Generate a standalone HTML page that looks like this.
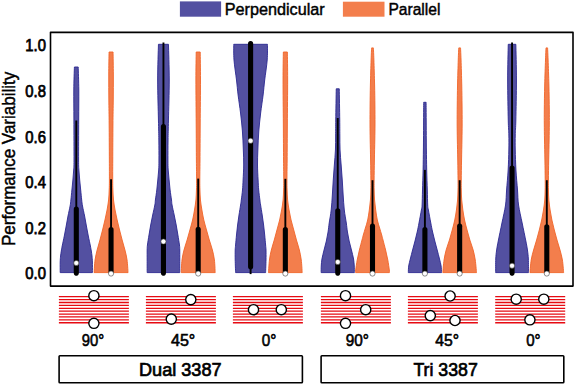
<!DOCTYPE html>
<html><head><meta charset="utf-8"><style>
html,body{margin:0;padding:0;background:#fff;}
svg{display:block;}
text{font-family:"Liberation Sans",sans-serif;}
</style></head><body>
<svg width="575" height="385" viewBox="0 0 575 385">
<rect x="0" y="0" width="575" height="385" fill="#fff"/>
<path d="M74.40,67.00 L78.20,67.00 C78.30,70.83 78.72,81.17 78.80,90.00 C78.88,98.83 78.73,108.33 78.70,120.00 C78.67,131.67 78.57,151.67 78.60,160.00 C78.63,168.33 78.72,166.67 78.90,170.00 C79.08,173.33 79.40,176.67 79.70,180.00 C80.00,183.33 80.37,186.67 80.70,190.00 C81.03,193.33 81.40,197.33 81.70,200.00 C82.00,202.67 82.02,203.33 82.50,206.00 C82.98,208.67 83.95,212.67 84.60,216.00 C85.25,219.33 85.78,222.67 86.40,226.00 C87.02,229.33 87.63,232.67 88.30,236.00 C88.97,239.33 89.90,243.50 90.40,246.00 C90.90,248.50 91.03,249.33 91.30,251.00 C91.57,252.67 91.82,254.17 92.00,256.00 C92.18,257.83 92.33,259.23 92.40,262.00 C92.47,264.77 92.40,270.83 92.40,272.60 L60.20,272.60 C60.20,270.83 60.13,264.77 60.20,262.00 C60.27,259.23 60.42,257.83 60.60,256.00 C60.78,254.17 61.03,252.67 61.30,251.00 C61.57,249.33 61.70,248.50 62.20,246.00 C62.70,243.50 63.63,239.33 64.30,236.00 C64.97,232.67 65.58,229.33 66.20,226.00 C66.82,222.67 67.35,219.33 68.00,216.00 C68.65,212.67 69.62,208.67 70.10,206.00 C70.58,203.33 70.60,202.67 70.90,200.00 C71.20,197.33 71.57,193.33 71.90,190.00 C72.23,186.67 72.60,183.33 72.90,180.00 C73.20,176.67 73.52,173.33 73.70,170.00 C73.88,166.67 73.97,168.33 74.00,160.00 C74.03,151.67 73.93,131.67 73.90,120.00 C73.87,108.33 73.72,98.83 73.80,90.00 C73.88,81.17 74.30,70.83 74.40,67.00 Z" fill="#5350a1" stroke="#2a2790" stroke-width="0.9" stroke-linejoin="miter"/>
<line x1="76.30" y1="120.50" x2="76.30" y2="275.50" stroke="#000" stroke-width="1.90" stroke-linecap="butt"/>
<line x1="76.30" y1="209.05" x2="76.30" y2="272.95" stroke="#000" stroke-width="5.10" stroke-linecap="round"/>
<circle cx="76.30" cy="263.00" r="2.55" fill="#fff" stroke="#444" stroke-width="0.6"/>
<path d="M109.05,52.00 L113.05,52.00 C113.10,55.83 113.32,67.00 113.35,75.00 C113.38,83.00 113.32,91.83 113.25,100.00 C113.18,108.17 113.03,114.00 112.95,124.00 C112.87,134.00 112.79,150.67 112.75,160.00 C112.71,169.33 112.68,175.00 112.70,180.00 C112.72,185.00 112.77,186.67 112.90,190.00 C113.03,193.33 113.14,196.67 113.50,200.00 C113.86,203.33 114.44,206.67 115.05,210.00 C115.66,213.33 116.40,216.67 117.15,220.00 C117.90,223.33 118.72,226.67 119.55,230.00 C120.38,233.33 121.25,236.67 122.15,240.00 C123.05,243.33 124.13,246.67 124.95,250.00 C125.77,253.33 126.53,256.23 127.05,260.00 C127.57,263.77 127.88,270.50 128.05,272.60 L94.05,272.60 C94.22,270.50 94.53,263.77 95.05,260.00 C95.57,256.23 96.33,253.33 97.15,250.00 C97.97,246.67 99.05,243.33 99.95,240.00 C100.85,236.67 101.72,233.33 102.55,230.00 C103.38,226.67 104.20,223.33 104.95,220.00 C105.70,216.67 106.44,213.33 107.05,210.00 C107.66,206.67 108.24,203.33 108.60,200.00 C108.96,196.67 109.07,193.33 109.20,190.00 C109.33,186.67 109.38,185.00 109.40,180.00 C109.42,175.00 109.39,169.33 109.35,160.00 C109.31,150.67 109.23,134.00 109.15,124.00 C109.07,114.00 108.92,108.17 108.85,100.00 C108.78,91.83 108.72,83.00 108.75,75.00 C108.78,67.00 109.00,55.83 109.05,52.00 Z" fill="#f37e4c" stroke="#f06428" stroke-width="0.9" stroke-linejoin="miter"/>
<line x1="111.05" y1="179.20" x2="111.05" y2="275.00" stroke="#000" stroke-width="1.90" stroke-linecap="butt"/>
<line x1="111.05" y1="229.65" x2="111.05" y2="272.45" stroke="#000" stroke-width="5.10" stroke-linecap="round"/>
<circle cx="111.05" cy="273.60" r="2.55" fill="#fff" stroke="#444" stroke-width="0.6"/>
<path d="M158.45,44.30 L168.45,44.30 C168.58,50.25 169.25,67.38 169.25,80.00 C169.25,92.62 168.65,110.00 168.45,120.00 C168.25,130.00 168.13,133.33 168.05,140.00 C167.97,146.67 167.92,155.00 167.95,160.00 C167.97,165.00 168.01,166.67 168.20,170.00 C168.39,173.33 168.78,176.67 169.10,180.00 C169.42,183.33 169.70,186.67 170.10,190.00 C170.50,193.33 171.18,197.50 171.50,200.00 C171.82,202.50 171.60,202.50 172.05,205.00 C172.50,207.50 173.51,211.67 174.20,215.00 C174.89,218.33 175.58,221.67 176.20,225.00 C176.82,228.33 177.36,231.67 177.90,235.00 C178.44,238.33 179.14,242.50 179.45,245.00 C179.76,247.50 179.70,247.50 179.75,250.00 C179.80,252.50 179.75,256.23 179.75,260.00 C179.75,263.77 179.75,270.50 179.75,272.60 L147.15,272.60 C147.15,270.50 147.15,263.77 147.15,260.00 C147.15,256.23 147.10,252.50 147.15,250.00 C147.20,247.50 147.14,247.50 147.45,245.00 C147.76,242.50 148.46,238.33 149.00,235.00 C149.54,231.67 150.08,228.33 150.70,225.00 C151.32,221.67 152.01,218.33 152.70,215.00 C153.39,211.67 154.40,207.50 154.85,205.00 C155.30,202.50 155.07,202.50 155.40,200.00 C155.72,197.50 156.40,193.33 156.80,190.00 C157.20,186.67 157.48,183.33 157.80,180.00 C158.12,176.67 158.51,173.33 158.70,170.00 C158.89,166.67 158.92,165.00 158.95,160.00 C158.97,155.00 158.93,146.67 158.85,140.00 C158.77,133.33 158.65,130.00 158.45,120.00 C158.25,110.00 157.65,92.62 157.65,80.00 C157.65,67.38 158.32,50.25 158.45,44.30 Z" fill="#5350a1" stroke="#2a2790" stroke-width="0.9" stroke-linejoin="miter"/>
<line x1="163.45" y1="42.50" x2="163.45" y2="275.50" stroke="#000" stroke-width="1.90" stroke-linecap="butt"/>
<line x1="163.45" y1="126.45" x2="163.45" y2="272.95" stroke="#000" stroke-width="5.10" stroke-linecap="round"/>
<circle cx="163.45" cy="241.50" r="2.55" fill="#fff" stroke="#444" stroke-width="0.6"/>
<path d="M196.20,52.00 L200.20,52.00 C200.25,56.67 200.50,68.00 200.50,80.00 C200.50,92.00 200.28,110.67 200.20,124.00 C200.12,137.33 200.07,150.67 200.00,160.00 C199.93,169.33 199.81,175.00 199.80,180.00 C199.79,185.00 199.84,186.67 199.95,190.00 C200.06,193.33 200.12,196.67 200.45,200.00 C200.77,203.33 201.34,206.67 201.90,210.00 C202.46,213.33 203.03,216.67 203.80,220.00 C204.57,223.33 205.58,226.67 206.50,230.00 C207.42,233.33 208.32,236.67 209.30,240.00 C210.28,243.33 211.55,246.67 212.40,250.00 C213.25,253.33 213.93,256.23 214.40,260.00 C214.87,263.77 215.07,270.50 215.20,272.60 L181.20,272.60 C181.33,270.50 181.53,263.77 182.00,260.00 C182.47,256.23 183.15,253.33 184.00,250.00 C184.85,246.67 186.12,243.33 187.10,240.00 C188.08,236.67 188.98,233.33 189.90,230.00 C190.82,226.67 191.83,223.33 192.60,220.00 C193.37,216.67 193.94,213.33 194.50,210.00 C195.06,206.67 195.62,203.33 195.95,200.00 C196.27,196.67 196.34,193.33 196.45,190.00 C196.56,186.67 196.61,185.00 196.60,180.00 C196.59,175.00 196.47,169.33 196.40,160.00 C196.33,150.67 196.28,137.33 196.20,124.00 C196.12,110.67 195.90,92.00 195.90,80.00 C195.90,68.00 196.15,56.67 196.20,52.00 Z" fill="#f37e4c" stroke="#f06428" stroke-width="0.9" stroke-linejoin="miter"/>
<line x1="198.20" y1="178.60" x2="198.20" y2="275.00" stroke="#000" stroke-width="1.90" stroke-linecap="butt"/>
<line x1="198.20" y1="229.35" x2="198.20" y2="272.45" stroke="#000" stroke-width="5.10" stroke-linecap="round"/>
<circle cx="198.20" cy="273.60" r="2.55" fill="#fff" stroke="#444" stroke-width="0.6"/>
<path d="M233.75,44.30 L267.45,44.30 C267.41,46.92 267.66,54.05 267.20,60.00 C266.74,65.95 265.38,74.17 264.70,80.00 C264.02,85.83 263.78,89.50 263.10,95.00 C262.43,100.50 261.37,107.00 260.65,113.00 C259.93,119.00 259.26,125.00 258.80,131.00 C258.34,137.00 258.12,143.33 257.90,149.00 C257.68,154.67 257.47,159.83 257.50,165.00 C257.53,170.17 257.90,175.83 258.10,180.00 C258.30,184.17 258.40,186.67 258.70,190.00 C259.00,193.33 259.58,197.50 259.90,200.00 C260.22,202.50 260.22,202.50 260.60,205.00 C260.98,207.50 261.70,211.67 262.20,215.00 C262.70,218.33 263.18,221.67 263.60,225.00 C264.02,228.33 264.37,231.67 264.70,235.00 C265.03,238.33 265.38,242.50 265.60,245.00 C265.82,247.50 265.93,247.50 266.00,250.00 C266.07,252.50 266.07,256.23 266.00,260.00 C265.93,263.77 265.67,270.50 265.60,272.60 L235.60,272.60 C235.53,270.50 235.27,263.77 235.20,260.00 C235.13,256.23 235.13,252.50 235.20,250.00 C235.27,247.50 235.38,247.50 235.60,245.00 C235.82,242.50 236.17,238.33 236.50,235.00 C236.83,231.67 237.18,228.33 237.60,225.00 C238.02,221.67 238.50,218.33 239.00,215.00 C239.50,211.67 240.22,207.50 240.60,205.00 C240.98,202.50 240.98,202.50 241.30,200.00 C241.62,197.50 242.20,193.33 242.50,190.00 C242.80,186.67 242.90,184.17 243.10,180.00 C243.30,175.83 243.67,170.17 243.70,165.00 C243.73,159.83 243.52,154.67 243.30,149.00 C243.08,143.33 242.86,137.00 242.40,131.00 C241.94,125.00 241.27,119.00 240.55,113.00 C239.83,107.00 238.78,100.50 238.10,95.00 C237.43,89.50 237.18,85.83 236.50,80.00 C235.82,74.17 234.46,65.95 234.00,60.00 C233.54,54.05 233.79,46.92 233.75,44.30 Z" fill="#5350a1" stroke="#2a2790" stroke-width="0.9" stroke-linejoin="miter"/>
<line x1="250.60" y1="41.70" x2="250.60" y2="274.10" stroke="#000" stroke-width="1.90" stroke-linecap="butt"/>
<line x1="250.60" y1="43.55" x2="250.60" y2="266.65" stroke="#000" stroke-width="5.10" stroke-linecap="round"/>
<circle cx="250.60" cy="140.80" r="2.55" fill="#fff" stroke="#444" stroke-width="0.6"/>
<path d="M283.35,52.00 L287.35,52.00 C287.40,56.67 287.65,68.00 287.65,80.00 C287.65,92.00 287.43,110.67 287.35,124.00 C287.27,137.33 287.22,150.67 287.15,160.00 C287.08,169.33 286.96,175.00 286.95,180.00 C286.94,185.00 286.99,186.67 287.10,190.00 C287.21,193.33 287.28,196.67 287.60,200.00 C287.93,203.33 288.48,206.67 289.05,210.00 C289.62,213.33 290.27,216.67 291.05,220.00 C291.83,223.33 292.85,226.67 293.75,230.00 C294.65,233.33 295.52,236.67 296.45,240.00 C297.38,243.33 298.55,246.67 299.35,250.00 C300.15,253.33 300.77,256.23 301.25,260.00 C301.73,263.77 302.04,270.50 302.20,272.60 L268.50,272.60 C268.66,270.50 268.98,263.77 269.45,260.00 C269.93,256.23 270.55,253.33 271.35,250.00 C272.15,246.67 273.32,243.33 274.25,240.00 C275.18,236.67 276.05,233.33 276.95,230.00 C277.85,226.67 278.87,223.33 279.65,220.00 C280.43,216.67 281.08,213.33 281.65,210.00 C282.23,206.67 282.78,203.33 283.10,200.00 C283.43,196.67 283.49,193.33 283.60,190.00 C283.71,186.67 283.76,185.00 283.75,180.00 C283.74,175.00 283.62,169.33 283.55,160.00 C283.48,150.67 283.43,137.33 283.35,124.00 C283.27,110.67 283.05,92.00 283.05,80.00 C283.05,68.00 283.30,56.67 283.35,52.00 Z" fill="#f37e4c" stroke="#f06428" stroke-width="0.9" stroke-linejoin="miter"/>
<line x1="285.35" y1="178.80" x2="285.35" y2="275.00" stroke="#000" stroke-width="1.90" stroke-linecap="butt"/>
<line x1="285.35" y1="229.65" x2="285.35" y2="272.45" stroke="#000" stroke-width="5.10" stroke-linecap="round"/>
<circle cx="285.35" cy="273.60" r="2.55" fill="#fff" stroke="#444" stroke-width="0.6"/>
<path d="M336.25,88.80 L339.25,88.80 C339.33,94.00 339.65,112.30 339.75,120.00 C339.85,127.70 339.80,130.00 339.85,135.00 C339.90,140.00 339.83,145.00 340.05,150.00 C340.27,155.00 340.78,160.00 341.15,165.00 C341.52,170.00 341.92,175.00 342.25,180.00 C342.58,185.00 342.81,190.00 343.15,195.00 C343.49,200.00 343.78,205.33 344.30,210.00 C344.83,214.67 345.78,219.33 346.30,223.00 C346.83,226.67 346.98,229.00 347.45,232.00 C347.93,235.00 348.48,238.00 349.15,241.00 C349.82,244.00 350.72,247.00 351.45,250.00 C352.18,253.00 353.08,256.33 353.55,259.00 C354.02,261.67 354.12,263.73 354.25,266.00 C354.38,268.27 354.33,271.50 354.35,272.60 L321.15,272.60 C321.17,271.50 321.12,268.27 321.25,266.00 C321.38,263.73 321.48,261.67 321.95,259.00 C322.42,256.33 323.32,253.00 324.05,250.00 C324.78,247.00 325.68,244.00 326.35,241.00 C327.02,238.00 327.58,235.00 328.05,232.00 C328.53,229.00 328.68,226.67 329.20,223.00 C329.73,219.33 330.68,214.67 331.20,210.00 C331.73,205.33 332.01,200.00 332.35,195.00 C332.69,190.00 332.92,185.00 333.25,180.00 C333.58,175.00 333.98,170.00 334.35,165.00 C334.72,160.00 335.23,155.00 335.45,150.00 C335.67,145.00 335.60,140.00 335.65,135.00 C335.70,130.00 335.65,127.70 335.75,120.00 C335.85,112.30 336.17,94.00 336.25,88.80 Z" fill="#5350a1" stroke="#2a2790" stroke-width="0.9" stroke-linejoin="miter"/>
<line x1="337.75" y1="118.00" x2="337.75" y2="275.50" stroke="#000" stroke-width="1.90" stroke-linecap="butt"/>
<line x1="337.75" y1="210.85" x2="337.75" y2="272.95" stroke="#000" stroke-width="5.10" stroke-linecap="round"/>
<circle cx="337.75" cy="262.00" r="2.55" fill="#fff" stroke="#444" stroke-width="0.6"/>
<path d="M371.60,47.90 L373.40,47.90 C373.48,49.92 373.70,53.82 373.90,60.00 C374.10,66.18 374.43,77.50 374.60,85.00 C374.77,92.50 374.83,98.50 374.90,105.00 C374.97,111.50 375.02,118.17 375.00,124.00 C374.98,129.83 374.90,134.00 374.80,140.00 C374.70,146.00 374.52,153.33 374.40,160.00 C374.28,166.67 374.14,175.00 374.10,180.00 C374.06,185.00 374.08,186.67 374.15,190.00 C374.23,193.33 374.29,196.67 374.55,200.00 C374.81,203.33 375.24,206.67 375.70,210.00 C376.16,213.33 376.65,217.00 377.30,220.00 C377.95,223.00 378.87,225.50 379.60,228.00 C380.33,230.50 381.13,233.00 381.70,235.00 C382.27,237.00 382.35,237.50 383.00,240.00 C383.65,242.50 384.80,246.67 385.60,250.00 C386.40,253.33 387.18,256.67 387.80,260.00 C388.42,263.33 389.03,267.90 389.30,270.00 C389.57,272.10 389.38,272.17 389.40,272.60 L355.60,272.60 C355.62,272.17 355.43,272.10 355.70,270.00 C355.97,267.90 356.58,263.33 357.20,260.00 C357.82,256.67 358.60,253.33 359.40,250.00 C360.20,246.67 361.35,242.50 362.00,240.00 C362.65,237.50 362.73,237.00 363.30,235.00 C363.87,233.00 364.67,230.50 365.40,228.00 C366.13,225.50 367.05,223.00 367.70,220.00 C368.35,217.00 368.84,213.33 369.30,210.00 C369.76,206.67 370.19,203.33 370.45,200.00 C370.71,196.67 370.78,193.33 370.85,190.00 C370.93,186.67 370.94,185.00 370.90,180.00 C370.86,175.00 370.72,166.67 370.60,160.00 C370.48,153.33 370.30,146.00 370.20,140.00 C370.10,134.00 370.02,129.83 370.00,124.00 C369.98,118.17 370.03,111.50 370.10,105.00 C370.17,98.50 370.23,92.50 370.40,85.00 C370.57,77.50 370.90,66.18 371.10,60.00 C371.30,53.82 371.52,49.92 371.60,47.90 Z" fill="#f37e4c" stroke="#f06428" stroke-width="0.9" stroke-linejoin="miter"/>
<line x1="372.50" y1="180.20" x2="372.50" y2="275.00" stroke="#000" stroke-width="1.90" stroke-linecap="butt"/>
<line x1="372.50" y1="226.15" x2="372.50" y2="272.45" stroke="#000" stroke-width="5.10" stroke-linecap="round"/>
<circle cx="372.50" cy="273.60" r="2.55" fill="#fff" stroke="#444" stroke-width="0.6"/>
<path d="M423.70,102.30 L426.10,102.30 C426.12,105.25 426.17,113.72 426.20,120.00 C426.23,126.28 426.27,135.00 426.30,140.00 C426.33,145.00 426.33,145.00 426.40,150.00 C426.47,155.00 426.55,163.33 426.70,170.00 C426.85,176.67 427.13,184.17 427.30,190.00 C427.47,195.83 427.52,201.67 427.70,205.00 C427.88,208.33 427.88,207.00 428.40,210.00 C428.92,213.00 430.10,219.33 430.80,223.00 C431.50,226.67 431.93,229.00 432.60,232.00 C433.27,235.00 434.03,238.00 434.80,241.00 C435.57,244.00 436.42,247.00 437.20,250.00 C437.98,253.00 438.85,256.33 439.50,259.00 C440.15,261.67 440.77,263.73 441.10,266.00 C441.43,268.27 441.43,271.50 441.50,272.60 L408.30,272.60 C408.37,271.50 408.37,268.27 408.70,266.00 C409.03,263.73 409.65,261.67 410.30,259.00 C410.95,256.33 411.82,253.00 412.60,250.00 C413.38,247.00 414.23,244.00 415.00,241.00 C415.77,238.00 416.53,235.00 417.20,232.00 C417.87,229.00 418.30,226.67 419.00,223.00 C419.70,219.33 420.88,213.00 421.40,210.00 C421.92,207.00 421.92,208.33 422.10,205.00 C422.28,201.67 422.33,195.83 422.50,190.00 C422.67,184.17 422.95,176.67 423.10,170.00 C423.25,163.33 423.33,155.00 423.40,150.00 C423.47,145.00 423.47,145.00 423.50,140.00 C423.53,135.00 423.57,126.28 423.60,120.00 C423.63,113.72 423.68,105.25 423.70,102.30 Z" fill="#5350a1" stroke="#2a2790" stroke-width="0.9" stroke-linejoin="miter"/>
<line x1="424.90" y1="169.90" x2="424.90" y2="275.00" stroke="#000" stroke-width="1.90" stroke-linecap="butt"/>
<line x1="424.90" y1="229.65" x2="424.90" y2="272.45" stroke="#000" stroke-width="5.10" stroke-linecap="round"/>
<circle cx="424.90" cy="273.60" r="2.55" fill="#fff" stroke="#444" stroke-width="0.6"/>
<path d="M458.75,47.90 L460.55,47.90 C460.63,49.92 460.85,53.82 461.05,60.00 C461.25,66.18 461.58,77.50 461.75,85.00 C461.92,92.50 461.98,98.50 462.05,105.00 C462.12,111.50 462.17,118.17 462.15,124.00 C462.13,129.83 462.05,134.00 461.95,140.00 C461.85,146.00 461.67,153.33 461.55,160.00 C461.43,166.67 461.29,175.00 461.25,180.00 C461.21,185.00 461.23,186.67 461.30,190.00 C461.38,193.33 461.44,196.67 461.70,200.00 C461.96,203.33 462.38,206.67 462.85,210.00 C463.33,213.33 463.85,216.67 464.55,220.00 C465.25,223.33 466.17,226.67 467.05,230.00 C467.93,233.33 468.83,236.67 469.85,240.00 C470.87,243.33 472.25,246.67 473.15,250.00 C474.05,253.33 474.69,256.23 475.25,260.00 C475.81,263.77 476.29,270.50 476.50,272.60 L442.80,272.60 C443.01,270.50 443.49,263.77 444.05,260.00 C444.61,256.23 445.25,253.33 446.15,250.00 C447.05,246.67 448.43,243.33 449.45,240.00 C450.47,236.67 451.37,233.33 452.25,230.00 C453.13,226.67 454.05,223.33 454.75,220.00 C455.45,216.67 455.98,213.33 456.45,210.00 C456.93,206.67 457.34,203.33 457.60,200.00 C457.86,196.67 457.93,193.33 458.00,190.00 C458.08,186.67 458.09,185.00 458.05,180.00 C458.01,175.00 457.87,166.67 457.75,160.00 C457.63,153.33 457.45,146.00 457.35,140.00 C457.25,134.00 457.17,129.83 457.15,124.00 C457.13,118.17 457.18,111.50 457.25,105.00 C457.32,98.50 457.38,92.50 457.55,85.00 C457.72,77.50 458.05,66.18 458.25,60.00 C458.45,53.82 458.67,49.92 458.75,47.90 Z" fill="#f37e4c" stroke="#f06428" stroke-width="0.9" stroke-linejoin="miter"/>
<line x1="459.65" y1="180.20" x2="459.65" y2="275.00" stroke="#000" stroke-width="1.90" stroke-linecap="butt"/>
<line x1="459.65" y1="226.15" x2="459.65" y2="272.45" stroke="#000" stroke-width="5.10" stroke-linecap="round"/>
<circle cx="459.65" cy="273.60" r="2.55" fill="#fff" stroke="#444" stroke-width="0.6"/>
<path d="M508.25,44.30 L515.85,44.30 C515.95,50.25 516.45,67.38 516.45,80.00 C516.45,92.62 516.05,110.83 515.85,120.00 C515.65,129.17 515.35,130.00 515.25,135.00 C515.15,140.00 515.13,144.17 515.25,150.00 C515.37,155.83 515.57,163.33 515.95,170.00 C516.32,176.67 517.07,184.17 517.50,190.00 C517.93,195.83 517.77,199.50 518.55,205.00 C519.32,210.50 520.93,217.00 522.15,223.00 C523.37,229.00 524.97,236.50 525.85,241.00 C526.73,245.50 527.03,247.00 527.45,250.00 C527.87,253.00 528.18,255.23 528.35,259.00 C528.52,262.77 528.43,270.33 528.45,272.60 L495.65,272.60 C495.67,270.33 495.58,262.77 495.75,259.00 C495.92,255.23 496.23,253.00 496.65,250.00 C497.07,247.00 497.37,245.50 498.25,241.00 C499.13,236.50 500.73,229.00 501.95,223.00 C503.17,217.00 504.77,210.50 505.55,205.00 C506.32,199.50 506.17,195.83 506.60,190.00 C507.03,184.17 507.77,176.67 508.15,170.00 C508.52,163.33 508.73,155.83 508.85,150.00 C508.97,144.17 508.95,140.00 508.85,135.00 C508.75,130.00 508.45,129.17 508.25,120.00 C508.05,110.83 507.65,92.62 507.65,80.00 C507.65,67.38 508.15,50.25 508.25,44.30 Z" fill="#5350a1" stroke="#2a2790" stroke-width="0.9" stroke-linejoin="miter"/>
<line x1="512.05" y1="42.50" x2="512.05" y2="275.50" stroke="#000" stroke-width="1.90" stroke-linecap="butt"/>
<line x1="512.05" y1="167.95" x2="512.05" y2="272.95" stroke="#000" stroke-width="5.10" stroke-linecap="round"/>
<circle cx="512.05" cy="265.70" r="2.55" fill="#fff" stroke="#444" stroke-width="0.6"/>
<path d="M546.00,47.90 L547.60,47.90 C547.68,49.92 547.88,53.82 548.10,60.00 C548.32,66.18 548.70,76.67 548.90,85.00 C549.10,93.33 549.23,103.50 549.30,110.00 C549.37,116.50 549.33,119.00 549.30,124.00 C549.27,129.00 549.20,134.00 549.10,140.00 C549.00,146.00 548.82,153.33 548.70,160.00 C548.58,166.67 548.44,175.00 548.40,180.00 C548.36,185.00 548.38,186.67 548.45,190.00 C548.52,193.33 548.57,196.67 548.85,200.00 C549.12,203.33 549.59,206.67 550.10,210.00 C550.61,213.33 551.20,216.67 551.90,220.00 C552.60,223.33 553.45,226.67 554.30,230.00 C555.15,233.33 556.05,236.67 557.00,240.00 C557.95,243.33 559.10,246.67 560.00,250.00 C560.90,253.33 561.79,256.23 562.40,260.00 C563.01,263.77 563.44,270.50 563.65,272.60 L529.95,272.60 C530.16,270.50 530.59,263.77 531.20,260.00 C531.81,256.23 532.70,253.33 533.60,250.00 C534.50,246.67 535.65,243.33 536.60,240.00 C537.55,236.67 538.45,233.33 539.30,230.00 C540.15,226.67 541.00,223.33 541.70,220.00 C542.40,216.67 542.99,213.33 543.50,210.00 C544.01,206.67 544.48,203.33 544.75,200.00 C545.02,196.67 545.08,193.33 545.15,190.00 C545.22,186.67 545.24,185.00 545.20,180.00 C545.16,175.00 545.02,166.67 544.90,160.00 C544.78,153.33 544.60,146.00 544.50,140.00 C544.40,134.00 544.33,129.00 544.30,124.00 C544.27,119.00 544.23,116.50 544.30,110.00 C544.37,103.50 544.50,93.33 544.70,85.00 C544.90,76.67 545.28,66.18 545.50,60.00 C545.72,53.82 545.92,49.92 546.00,47.90 Z" fill="#f37e4c" stroke="#f06428" stroke-width="0.9" stroke-linejoin="miter"/>
<line x1="546.80" y1="180.20" x2="546.80" y2="275.00" stroke="#000" stroke-width="1.90" stroke-linecap="butt"/>
<line x1="546.80" y1="226.85" x2="546.80" y2="272.45" stroke="#000" stroke-width="5.10" stroke-linecap="round"/>
<circle cx="546.80" cy="273.60" r="2.55" fill="#fff" stroke="#444" stroke-width="0.6"/>
<line x1="58.90" y1="296.70" x2="128.90" y2="296.70" stroke="#e60a12" stroke-width="1.3"/>
<line x1="58.90" y1="299.59" x2="128.90" y2="299.59" stroke="#e60a12" stroke-width="1.3"/>
<line x1="58.90" y1="302.49" x2="128.90" y2="302.49" stroke="#e60a12" stroke-width="1.3"/>
<line x1="58.90" y1="305.38" x2="128.90" y2="305.38" stroke="#e60a12" stroke-width="1.3"/>
<line x1="58.90" y1="308.28" x2="128.90" y2="308.28" stroke="#e60a12" stroke-width="1.3"/>
<line x1="58.90" y1="311.18" x2="128.90" y2="311.18" stroke="#e60a12" stroke-width="1.3"/>
<line x1="58.90" y1="314.07" x2="128.90" y2="314.07" stroke="#e60a12" stroke-width="1.3"/>
<line x1="58.90" y1="316.96" x2="128.90" y2="316.96" stroke="#e60a12" stroke-width="1.3"/>
<line x1="58.90" y1="319.86" x2="128.90" y2="319.86" stroke="#e60a12" stroke-width="1.3"/>
<line x1="58.90" y1="322.75" x2="128.90" y2="322.75" stroke="#e60a12" stroke-width="1.3"/>
<line x1="145.90" y1="296.70" x2="215.90" y2="296.70" stroke="#e60a12" stroke-width="1.3"/>
<line x1="145.90" y1="299.59" x2="215.90" y2="299.59" stroke="#e60a12" stroke-width="1.3"/>
<line x1="145.90" y1="302.49" x2="215.90" y2="302.49" stroke="#e60a12" stroke-width="1.3"/>
<line x1="145.90" y1="305.38" x2="215.90" y2="305.38" stroke="#e60a12" stroke-width="1.3"/>
<line x1="145.90" y1="308.28" x2="215.90" y2="308.28" stroke="#e60a12" stroke-width="1.3"/>
<line x1="145.90" y1="311.18" x2="215.90" y2="311.18" stroke="#e60a12" stroke-width="1.3"/>
<line x1="145.90" y1="314.07" x2="215.90" y2="314.07" stroke="#e60a12" stroke-width="1.3"/>
<line x1="145.90" y1="316.96" x2="215.90" y2="316.96" stroke="#e60a12" stroke-width="1.3"/>
<line x1="145.90" y1="319.86" x2="215.90" y2="319.86" stroke="#e60a12" stroke-width="1.3"/>
<line x1="145.90" y1="322.75" x2="215.90" y2="322.75" stroke="#e60a12" stroke-width="1.3"/>
<line x1="232.90" y1="296.70" x2="302.90" y2="296.70" stroke="#e60a12" stroke-width="1.3"/>
<line x1="232.90" y1="299.59" x2="302.90" y2="299.59" stroke="#e60a12" stroke-width="1.3"/>
<line x1="232.90" y1="302.49" x2="302.90" y2="302.49" stroke="#e60a12" stroke-width="1.3"/>
<line x1="232.90" y1="305.38" x2="302.90" y2="305.38" stroke="#e60a12" stroke-width="1.3"/>
<line x1="232.90" y1="308.28" x2="302.90" y2="308.28" stroke="#e60a12" stroke-width="1.3"/>
<line x1="232.90" y1="311.18" x2="302.90" y2="311.18" stroke="#e60a12" stroke-width="1.3"/>
<line x1="232.90" y1="314.07" x2="302.90" y2="314.07" stroke="#e60a12" stroke-width="1.3"/>
<line x1="232.90" y1="316.96" x2="302.90" y2="316.96" stroke="#e60a12" stroke-width="1.3"/>
<line x1="232.90" y1="319.86" x2="302.90" y2="319.86" stroke="#e60a12" stroke-width="1.3"/>
<line x1="232.90" y1="322.75" x2="302.90" y2="322.75" stroke="#e60a12" stroke-width="1.3"/>
<line x1="320.90" y1="296.70" x2="390.90" y2="296.70" stroke="#e60a12" stroke-width="1.3"/>
<line x1="320.90" y1="299.59" x2="390.90" y2="299.59" stroke="#e60a12" stroke-width="1.3"/>
<line x1="320.90" y1="302.49" x2="390.90" y2="302.49" stroke="#e60a12" stroke-width="1.3"/>
<line x1="320.90" y1="305.38" x2="390.90" y2="305.38" stroke="#e60a12" stroke-width="1.3"/>
<line x1="320.90" y1="308.28" x2="390.90" y2="308.28" stroke="#e60a12" stroke-width="1.3"/>
<line x1="320.90" y1="311.18" x2="390.90" y2="311.18" stroke="#e60a12" stroke-width="1.3"/>
<line x1="320.90" y1="314.07" x2="390.90" y2="314.07" stroke="#e60a12" stroke-width="1.3"/>
<line x1="320.90" y1="316.96" x2="390.90" y2="316.96" stroke="#e60a12" stroke-width="1.3"/>
<line x1="320.90" y1="319.86" x2="390.90" y2="319.86" stroke="#e60a12" stroke-width="1.3"/>
<line x1="320.90" y1="322.75" x2="390.90" y2="322.75" stroke="#e60a12" stroke-width="1.3"/>
<line x1="407.90" y1="296.70" x2="477.90" y2="296.70" stroke="#e60a12" stroke-width="1.3"/>
<line x1="407.90" y1="299.59" x2="477.90" y2="299.59" stroke="#e60a12" stroke-width="1.3"/>
<line x1="407.90" y1="302.49" x2="477.90" y2="302.49" stroke="#e60a12" stroke-width="1.3"/>
<line x1="407.90" y1="305.38" x2="477.90" y2="305.38" stroke="#e60a12" stroke-width="1.3"/>
<line x1="407.90" y1="308.28" x2="477.90" y2="308.28" stroke="#e60a12" stroke-width="1.3"/>
<line x1="407.90" y1="311.18" x2="477.90" y2="311.18" stroke="#e60a12" stroke-width="1.3"/>
<line x1="407.90" y1="314.07" x2="477.90" y2="314.07" stroke="#e60a12" stroke-width="1.3"/>
<line x1="407.90" y1="316.96" x2="477.90" y2="316.96" stroke="#e60a12" stroke-width="1.3"/>
<line x1="407.90" y1="319.86" x2="477.90" y2="319.86" stroke="#e60a12" stroke-width="1.3"/>
<line x1="407.90" y1="322.75" x2="477.90" y2="322.75" stroke="#e60a12" stroke-width="1.3"/>
<line x1="495.20" y1="296.70" x2="565.20" y2="296.70" stroke="#e60a12" stroke-width="1.3"/>
<line x1="495.20" y1="299.59" x2="565.20" y2="299.59" stroke="#e60a12" stroke-width="1.3"/>
<line x1="495.20" y1="302.49" x2="565.20" y2="302.49" stroke="#e60a12" stroke-width="1.3"/>
<line x1="495.20" y1="305.38" x2="565.20" y2="305.38" stroke="#e60a12" stroke-width="1.3"/>
<line x1="495.20" y1="308.28" x2="565.20" y2="308.28" stroke="#e60a12" stroke-width="1.3"/>
<line x1="495.20" y1="311.18" x2="565.20" y2="311.18" stroke="#e60a12" stroke-width="1.3"/>
<line x1="495.20" y1="314.07" x2="565.20" y2="314.07" stroke="#e60a12" stroke-width="1.3"/>
<line x1="495.20" y1="316.96" x2="565.20" y2="316.96" stroke="#e60a12" stroke-width="1.3"/>
<line x1="495.20" y1="319.86" x2="565.20" y2="319.86" stroke="#e60a12" stroke-width="1.3"/>
<line x1="495.20" y1="322.75" x2="565.20" y2="322.75" stroke="#e60a12" stroke-width="1.3"/>
<circle cx="93.90" cy="295.70" r="5.1" fill="#fff" stroke="#000" stroke-width="1.4"/>
<circle cx="93.90" cy="323.30" r="5.1" fill="#fff" stroke="#000" stroke-width="1.4"/>
<circle cx="190.80" cy="299.60" r="5.1" fill="#fff" stroke="#000" stroke-width="1.4"/>
<circle cx="171.30" cy="319.10" r="5.1" fill="#fff" stroke="#000" stroke-width="1.4"/>
<circle cx="253.50" cy="309.70" r="5.1" fill="#fff" stroke="#000" stroke-width="1.4"/>
<circle cx="281.30" cy="309.70" r="5.1" fill="#fff" stroke="#000" stroke-width="1.4"/>
<circle cx="345.50" cy="295.70" r="5.1" fill="#fff" stroke="#000" stroke-width="1.4"/>
<circle cx="365.70" cy="309.70" r="5.1" fill="#fff" stroke="#000" stroke-width="1.4"/>
<circle cx="345.50" cy="323.30" r="5.1" fill="#fff" stroke="#000" stroke-width="1.4"/>
<circle cx="450.10" cy="296.00" r="5.1" fill="#fff" stroke="#000" stroke-width="1.4"/>
<circle cx="430.30" cy="315.60" r="5.1" fill="#fff" stroke="#000" stroke-width="1.4"/>
<circle cx="455.00" cy="320.50" r="5.1" fill="#fff" stroke="#000" stroke-width="1.4"/>
<circle cx="516.20" cy="299.20" r="5.1" fill="#fff" stroke="#000" stroke-width="1.4"/>
<circle cx="543.80" cy="299.20" r="5.1" fill="#fff" stroke="#000" stroke-width="1.4"/>
<circle cx="529.90" cy="319.80" r="5.1" fill="#fff" stroke="#000" stroke-width="1.4"/>
<rect x="50.5" y="32.35" width="522.5" height="253.75" fill="none" stroke="#000" stroke-width="1.6" stroke-linejoin="round"/>
<rect x="179.9" y="1.4" width="41.2" height="15.3" fill="#5350a1"/>
<rect x="342.9" y="1.7" width="41.6" height="15.0" fill="#f37e4c"/>
<text x="224.70" y="15.30" font-size="16.90" font-weight="normal" text-anchor="start" textLength="100.10" lengthAdjust="spacingAndGlyphs" stroke="#000" stroke-width="0.45" >Perpendicular</text>
<text x="388.40" y="15.30" font-size="16.90" font-weight="normal" text-anchor="start" textLength="52.00" lengthAdjust="spacingAndGlyphs" stroke="#000" stroke-width="0.45" >Parallel</text>
<text x="25.30" y="51.00" font-size="16.20" font-weight="normal" text-anchor="start" textLength="20.60" lengthAdjust="spacingAndGlyphs" stroke="#000" stroke-width="0.75" >1.0</text>
<text x="25.30" y="97.20" font-size="16.20" font-weight="normal" text-anchor="start" textLength="20.60" lengthAdjust="spacingAndGlyphs" stroke="#000" stroke-width="0.75" >0.8</text>
<text x="25.30" y="142.60" font-size="16.20" font-weight="normal" text-anchor="start" textLength="20.60" lengthAdjust="spacingAndGlyphs" stroke="#000" stroke-width="0.75" >0.6</text>
<text x="25.30" y="188.20" font-size="16.20" font-weight="normal" text-anchor="start" textLength="20.60" lengthAdjust="spacingAndGlyphs" stroke="#000" stroke-width="0.75" >0.4</text>
<text x="25.30" y="233.60" font-size="16.20" font-weight="normal" text-anchor="start" textLength="20.60" lengthAdjust="spacingAndGlyphs" stroke="#000" stroke-width="0.75" >0.2</text>
<text x="25.30" y="279.00" font-size="16.20" font-weight="normal" text-anchor="start" textLength="20.60" lengthAdjust="spacingAndGlyphs" stroke="#000" stroke-width="0.75" >0.0</text>
<g transform="translate(14.7,246) rotate(-90)"><text x="0.00" y="0.00" font-size="18.00" font-weight="normal" text-anchor="start" textLength="174.20" lengthAdjust="spacingAndGlyphs" stroke="#000" stroke-width="0.45" >Performance Variability</text></g>
<text x="81.70" y="345.70" font-size="17.00" font-weight="normal" text-anchor="start" textLength="22.40" lengthAdjust="spacingAndGlyphs" stroke="#000" stroke-width="0.60" >90°</text>
<text x="171.00" y="345.70" font-size="17.00" font-weight="normal" text-anchor="start" textLength="24.30" lengthAdjust="spacingAndGlyphs" stroke="#000" stroke-width="0.60" >45°</text>
<text x="261.80" y="345.70" font-size="17.00" font-weight="normal" text-anchor="start" textLength="14.60" lengthAdjust="spacingAndGlyphs" stroke="#000" stroke-width="0.60" >0°</text>
<text x="345.80" y="345.70" font-size="17.00" font-weight="normal" text-anchor="start" textLength="23.20" lengthAdjust="spacingAndGlyphs" stroke="#000" stroke-width="0.60" >90°</text>
<text x="435.20" y="345.70" font-size="17.00" font-weight="normal" text-anchor="start" textLength="23.80" lengthAdjust="spacingAndGlyphs" stroke="#000" stroke-width="0.60" >45°</text>
<text x="526.20" y="345.70" font-size="17.00" font-weight="normal" text-anchor="start" textLength="14.40" lengthAdjust="spacingAndGlyphs" stroke="#000" stroke-width="0.60" >0°</text>
<rect x="59.1" y="355.8" width="243.3" height="26.9" fill="none" stroke="#000" stroke-width="1.6" rx="0.8"/>
<rect x="321.1" y="355.8" width="242.7" height="26.9" fill="none" stroke="#000" stroke-width="1.6" rx="0.8"/>
<text x="139.00" y="375.90" font-size="18.90" font-weight="normal" text-anchor="start" textLength="82.60" lengthAdjust="spacingAndGlyphs" stroke="#000" stroke-width="0.70" >Dual 3387</text>
<text x="413.40" y="375.90" font-size="18.90" font-weight="normal" text-anchor="start" textLength="64.40" lengthAdjust="spacingAndGlyphs" stroke="#000" stroke-width="0.70" >Tri 3387</text>
</svg>
</body></html>
